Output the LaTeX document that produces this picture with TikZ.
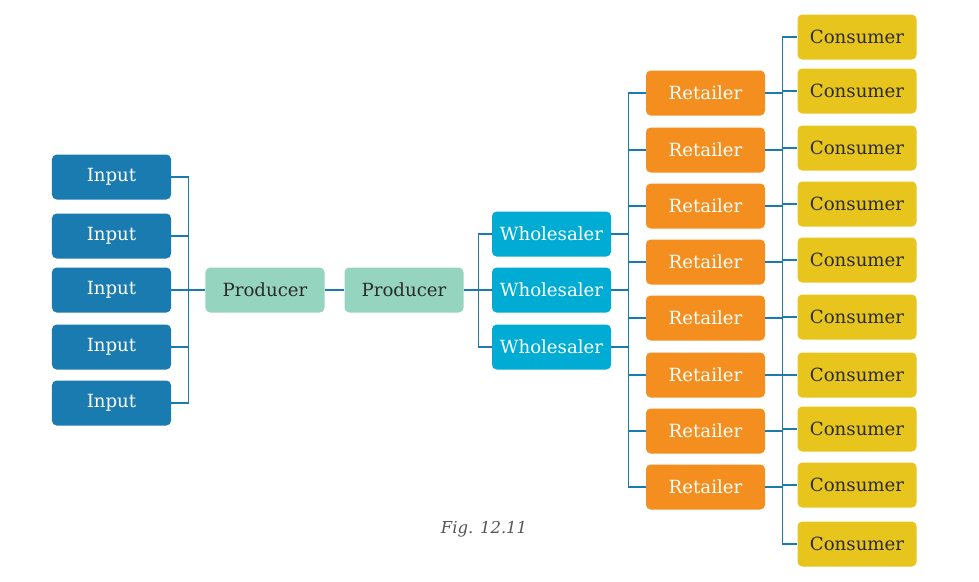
\documentclass[tikz,border=0pt]{standalone}
\usepackage{fontspec}
\setmainfont{DejaVu Serif}
\definecolor{inblue}{HTML}{1A7BB0}
\definecolor{prodgreen}{HTML}{95D4BE}
\definecolor{wholecyan}{HTML}{00ACD3}
\definecolor{retorange}{HTML}{F48F1F}
\definecolor{consyellow}{HTML}{E8C51C}
\definecolor{darktext}{HTML}{2B2B2B}
\begin{document}
\begin{tikzpicture}[x=0.03cm,y=-0.03cm]
    \tikzstyle{box}=[rectangle,rounded corners=4pt,minimum width=3.57cm,minimum height=1.35cm,
                     inner sep=0pt,font=\fontsize{15.5}{17}\selectfont]
    \tikzstyle{input}=[box,fill=inblue,text=white]
    \tikzstyle{producer}=[box,fill=prodgreen,text=darktext]
    \tikzstyle{wholesaler}=[box,fill=wholecyan,text=white]
    \tikzstyle{retailer}=[box,fill=retorange,text=white]
    \tikzstyle{consumer}=[box,fill=consyellow,text=darktext]
    \tikzstyle{link}=[draw=inblue,line width=1.2pt]
    \useasboundingbox (0,0) rectangle (979,581);

    \foreach \y [count=\i] in {177,236,290,347,403}
        \node[input] (in\i) at (111.5,\y) {Input};
    \node[producer] (p1) at (265,290) {Producer};
    \node[producer] (p2) at (404,290) {Producer};
    \foreach \y [count=\i] in {234,290,347}
        \node[wholesaler] (w\i) at (551.5,\y) {Wholesaler};
    \foreach \y [count=\i] in {93,150,206,262,318,375,431,487}
        \node[retailer] (r\i) at (705.5,\y) {Retailer};
    \foreach \y [count=\i] in {37,91,148,204,260,317,375,429,485,544}
        \node[consumer] (c\i) at (857,\y) {Consumer};

    \foreach \i in {1,...,5}
        \draw[link] (in\i.east) -- ++(17,0) |- (p1.west);
    \draw[link] (p1.east) -- (p2.west);
    \foreach \i in {1,2,3}
        \draw[link] (p2.east) -- ++(15,0) |- (w\i.west);
    \foreach \i in {1,2,3}
        \foreach \j in {1,...,8}
            \draw[link] (w\i.east) -- ++(17,0) |- (r\j.west);
    \foreach \i in {1,...,8}
        \foreach \j in {1,...,10}
            \draw[link] (r\i.east) -- ++(17,0) |- (c\j.west);

    \node[font=\itshape\fontsize{14}{16}\selectfont,text=darktext!80] (fig) at (484,529) {Fig. 12.11};
\end{tikzpicture}
\end{document}
